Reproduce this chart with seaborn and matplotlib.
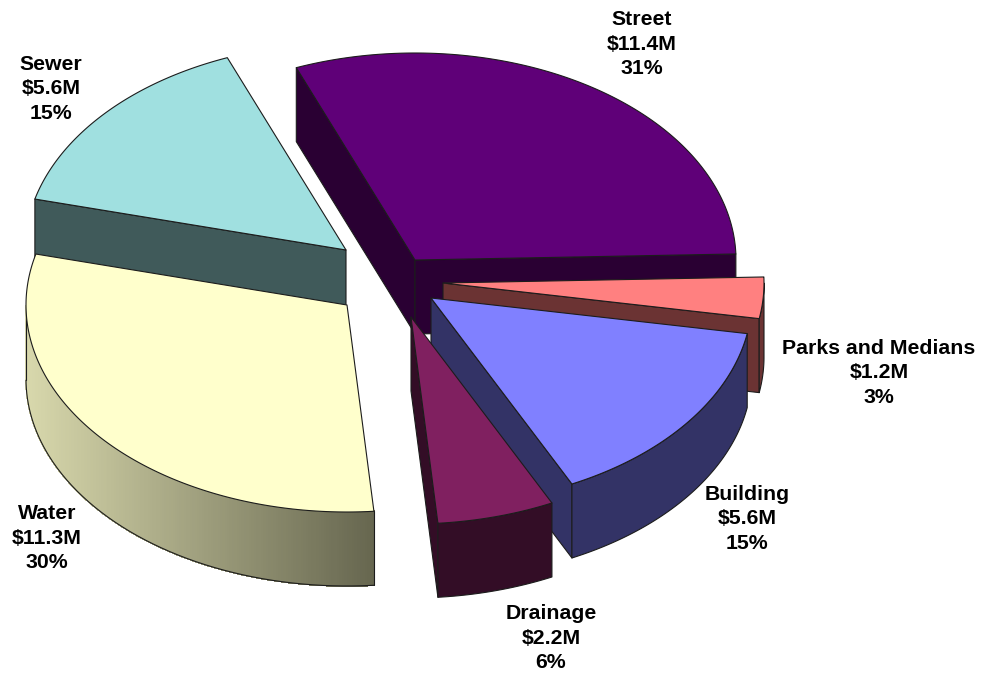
import numpy as np
import matplotlib
matplotlib.use("Agg")
import matplotlib.pyplot as plt
from matplotlib.patches import Polygon
from matplotlib.collections import PolyCollection
import seaborn as sns

# ---- data ----
names = ["Street", "Parks and Medians", "Building", "Drainage", "Water", "Sewer"]
values = [11.4, 1.2, 5.6, 2.2, 11.3, 5.6]

# ---- style / layout ----
top_colors = ["#5F0078", "#FF8080", "#8080FF", "#802060", "#FFFFCC", "#A0E0E0"]
side_colors = ["#2A0033", "#6B3333", "#333366", "#330D26", "#D8D8AC", "#405A5A"]
side_end_colors = [None, None, None, None, "#66664F", None]
apex_xy = [(415, 260), (443, 283), (431, 298), (411, 317), (347, 305), (346, 250)]
label_xy = [(642, 44), (879, 373), (747, 519), (551, 638), (47, 538), (51, 89)]
draw_order = [0, 5, 1, 4, 2, 3]
RX, RY, DEPTH = 321, 207, 74
START = 111.7
EDGE = "#1c1c1c"

sns.set_theme(style="white")
plt.rcParams["font.family"] = ["Liberation Sans", "DejaVu Sans"]

fig = plt.figure(figsize=(9.87, 6.75), dpi=100, facecolor="white")
ax = fig.add_axes([0, 0, 1, 1])
ax.set_xlim(0, 987)
ax.set_ylim(675, 0)
ax.axis("off")

total = sum(values)
sweeps = np.array(values) / total * 360
starts = START - np.concatenate([[0], np.cumsum(sweeps)[:-1]])
ends = starts - sweeps


def rim(cx, cy, t):
    t = np.radians(t)
    return np.column_stack([cx + RX * np.cos(t), cy - RY * np.sin(t)])


def face(points, color, z):
    ax.add_patch(Polygon(points, closed=True, facecolor=color, edgecolor=EDGE,
                         linewidth=0.8, joinstyle="round", zorder=z))


for rank, i in enumerate(draw_order):
    cx, cy = apex_xy[i]
    a0, a1 = starts[i], ends[i]
    z = 10 + rank * 5
    down = np.array([0, DEPTH])
    apex = np.array([[cx, cy]])

    # radial cut faces turned towards the viewer
    for ang, normal in ((a0, a0 + 90), (a1, a1 - 90)):
        if np.sin(np.radians(normal)) < 0:
            p = rim(cx, cy, np.array([ang]))
            col = side_colors[i] if side_end_colors[i] is None else side_end_colors[i]
            face(np.vstack([apex, p, p + down, apex + down]), col, z)

    # outer wall, only where it faces the viewer
    t = np.linspace(a0, a1, 240)
    t = t[np.sin(np.radians(t)) < 0]
    if len(t) > 1:
        p = rim(cx, cy, t)
        if side_end_colors[i] is None:
            face(np.vstack([p, (p + down)[::-1]]), side_colors[i], z + 1)
        else:
            quads = [np.vstack([p[k], p[k + 1], p[k + 1] + down, p[k] + down])
                     for k in range(len(p) - 1)]
            ramp = sns.blend_palette([side_colors[i], side_end_colors[i]], 256)
            xs = p[:-1, 0]
            idx = ((xs - xs.min()) / (xs.max() - xs.min()) * 255).astype(int)
            cols = [ramp[k] for k in idx]
            ax.add_collection(PolyCollection(quads, facecolors=cols, edgecolors=cols,
                                             linewidths=0.6, antialiaseds=False, zorder=z + 1))
            ax.plot(p[:, 0], p[:, 1] + DEPTH, color=EDGE, lw=0.8, zorder=z + 2)
            for e in (p[0], p[-1]):
                ax.plot([e[0], e[0]], [e[1], e[1] + DEPTH], color=EDGE, lw=0.8, zorder=z + 2)

    # top surface
    arc = rim(cx, cy, np.linspace(a0, a1, 200))
    face(np.vstack([apex, arc]), top_colors[i], z + 3)

for name, v, (x, y) in zip(names, values, label_xy):
    ax.text(x, y, f"{name}\n${v:.1f}M\n{v / total * 100:.0f}%", ha="center", va="center",
            fontsize=15.3, fontweight="bold", color="black", linespacing=1.34, zorder=100)

fig.savefig("out.png", dpi=100)
